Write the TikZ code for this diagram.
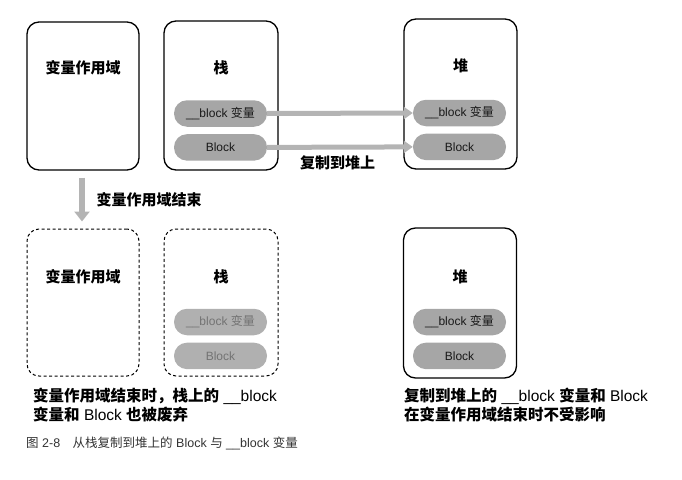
\documentclass[tikz,border=0pt]{standalone}
\usepackage{fontspec}
\setmainfont{Liberation Sans}
\newfontfamily\cjk{Noto Sans CJK SC}
\newcommand{\zh}[1]{{\cjk #1}}
\usepackage{xcolor}
\usepackage{tikz}
\usetikzlibrary{arrows.meta, positioning, calc}

\definecolor{pillgray}{HTML}{A6A6A6}
\definecolor{fadegray}{HTML}{B0B0B0}
\definecolor{arrowgray}{HTML}{B4B4B4}

\begin{document}
\begin{tikzpicture}[
    x=1pt, y=-1pt,
    area/.style={draw, line width=1.3pt, rounded corners=12pt, minimum width=112pt, minimum height=148pt},
    gone/.style={area, dashed, line width=1pt, dash pattern=on 3pt off 2.5pt},
    title/.style={font=\fontsize{15}{18}\selectfont\bfseries\cjk},
    pill/.style={fill=pillgray, rounded corners=13pt, minimum width=93pt, minimum height=26.5pt, inner sep=0pt, font=\fontsize{12}{14}\selectfont, text=black!90},
    fadepill/.style={pill, fill=fadegray, text=black!55},
    copyarrow/.style={arrowgray, line width=5pt, -{Triangle[length=9pt, width=12pt]}},
    note/.style={font=\fontsize{15.5}{18.5}\selectfont\bfseries, align=left, inner sep=0pt},
]
\useasboundingbox (0,0) rectangle (682,479);

% before the scope ends
\node[area] (scope) at (83,96) {};
\node[area, minimum width=114pt, minimum height=149pt] (stack) at (221,95.5) {};
\node[area, minimum width=113pt, minimum height=150pt] (heap) at (460.5,94) {};

\node[title] (scope-title) at (83,68) {变量作用域};
\node[title] (stack-title) at (221,68) {栈};
\node[title] (heap-title) at (460.5,66) {堆};

\node[pill] (stack-var) at (220.5,113.5) {\_\_block \zh{变量}};
\node[pill, below=7pt of stack-var] (stack-blk) {Block};
\node[pill] (heap-var) at (459.5,113) {\_\_block \zh{变量}};
\node[pill, below=7pt of heap-var] (heap-blk) {Block};

\draw[copyarrow] (stack-var.east) -- (heap-var.west);
\draw[copyarrow] (stack-blk.east) -- (heap-blk.west);
\node[title] (copy-label) at (337.5,163) {复制到堆上};

% after the scope ends
\node[gone, minimum height=147pt] (scope2) at (83,302.5) {};
\node[gone, minimum width=114pt, minimum height=147pt] (stack2) at (221,302.5) {};
\node[area, minimum width=113pt, minimum height=150pt] (heap2) at (460,303) {};

\node[title] (scope2-title) at (83,277) {变量作用域};
\node[title] (stack2-title) at (221,277) {栈};
\node[title] (heap2-title) at (460,277) {堆};

\node[fadepill] (stack2-var) at (220.5,322) {\_\_block \zh{变量}};
\node[fadepill, below=7pt of stack2-var] (stack2-blk) {Block};
\node[pill] (heap2-var) at (459.5,322) {\_\_block \zh{变量}};
\node[pill, below=7pt of heap2-var] (heap2-blk) {Block};

\draw[arrowgray, line width=6pt, -{Triangle[length=10pt, width=15pt]}, shorten <=7pt, shorten >=7pt]
    ([xshift=-1pt]scope.south) -- ([xshift=-1pt]scope2.north);
\node[title, anchor=west] (end-label) at (93,200) {变量作用域结束};

\node[note, anchor=north west] (left-note) at (33,388)
    {\zh{变量作用域结束时，栈上的} \textmd{\_\_block}\\\zh{变量和} \textmd{Block} \zh{也被废弃}};
\node[note, anchor=north west] (right-note) at (404,388)
    {\zh{复制到堆上的} \textmd{\_\_block} \zh{变量和} \textmd{Block}\\\zh{在变量作用域结束时不受影响}};

\node[anchor=west, inner sep=0pt, text=black!80, font=\fontsize{12.5}{15}\selectfont] (fig-caption) at (26,443)
    {\zh{图} 2-8\hspace{1em}\zh{从栈复制到堆上的} Block \zh{与} \_\_block \zh{变量}};
\end{tikzpicture}
\end{document}
